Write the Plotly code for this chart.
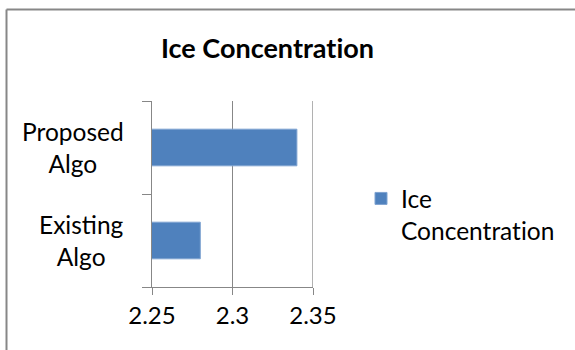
import plotly.graph_objects as go

# Chart data
categories = ["Existing Algo", "Proposed Algo"]
category_labels = ["Existing<br>Algo", "Proposed<br>Algo"]
values = [2.28, 2.34]
# U+200C keeps the font from fusing "ti" into a ligature
series_name = "Ice<br>Concentrat\u200cion"
title_text = "<b>Ice Concentrat\u200cion</b>"
x_tick_vals = [2.25, 2.30, 2.35]
x_tick_text = ["2.25", "2.3", "2.35"]

W, H = 575, 350
# plot-area box in pixels
L, R, T, B = 152, 313, 101, 287

FONT = "Lato"
GRID = "#878787"
BAR = "#4F81BD"


def px_x(p):
    return (p - L) / (R - L)


def px_y(p):
    return (B - p) / (B - T)


fig = go.Figure()
fig.add_trace(go.Bar(
    y=categories,
    x=values,
    orientation="h",
    name=series_name,
    marker=dict(color=BAR, line=dict(color="#7FA3D1", width=1)),
))

# centred, multi-line category labels right-aligned against the axis
annotations = []
for cat, lab in zip(categories, category_labels):
    annotations.append(dict(
        x=px_x(126), xref="paper", y=cat, yref="y",
        text=lab, showarrow=False, xanchor="right", yanchor="middle",
        align="center", font=dict(family=FONT, size=24.5, color="#000"),
    ))

shapes = [
    # outer chart frame
    dict(type="line", xref="paper", yref="paper",
         x0=px_x(6.5), x1=px_x(6.5), y0=px_y(9.5), y1=px_y(360),
         line=dict(color=GRID, width=2)),
    dict(type="line", xref="paper", yref="paper",
         x0=px_x(6.5), x1=px_x(600), y0=px_y(9.5), y1=px_y(9.5),
         line=dict(color=GRID, width=2)),
    # gridline at the last tick, which plotly drops at the range edge
    dict(type="line", xref="x", yref="paper",
         x0=x_tick_vals[-1], x1=x_tick_vals[-1], y0=0, y1=1,
         line=dict(color=GRID, width=1.3), layer="below"),
]

fig.update_layout(
    width=W, height=H,
    margin=dict(l=L, r=W - R, t=T, b=H - B, pad=0),
    paper_bgcolor="white", plot_bgcolor="white",
    font=dict(family=FONT, color="#000"),
    title=dict(text=title_text, x=267.5 / W, xanchor="center",
               y=1 - 49 / H, yanchor="middle", yref="container",
               font=dict(family=FONT, size=27, color="#000")),
    bargap=0.606,
    showlegend=True,
    legend=dict(x=px_x(361), y=px_y(176), xanchor="left", yanchor="top",
                valign="top", font=dict(family=FONT, size=24.5, color="#000"),
                bgcolor="rgba(0,0,0,0)", tracegroupgap=0),
    annotations=annotations,
    shapes=shapes,
)

fig.update_xaxes(
    range=[2.25, 2.35], tickvals=x_tick_vals, ticktext=x_tick_text,
    showgrid=True, gridcolor=GRID, gridwidth=1.3,
    showline=True, linecolor=GRID, linewidth=1.3,
    ticks="outside", ticklen=7, tickcolor=GRID, tickwidth=1.3,
    tickfont=dict(family=FONT, size=24, color="#000"),
    zeroline=False, fixedrange=True,
)
fig.update_yaxes(
    categoryorder="array", categoryarray=categories,
    showticklabels=False, showgrid=False,
    showline=True, linecolor=GRID, linewidth=1.3,
    ticks="outside", ticklen=9, tickcolor=GRID, tickwidth=1.3,
    tickson="boundaries", zeroline=False, fixedrange=True,
)

fig.write_html("out.html", config={"displayModeBar": False})
